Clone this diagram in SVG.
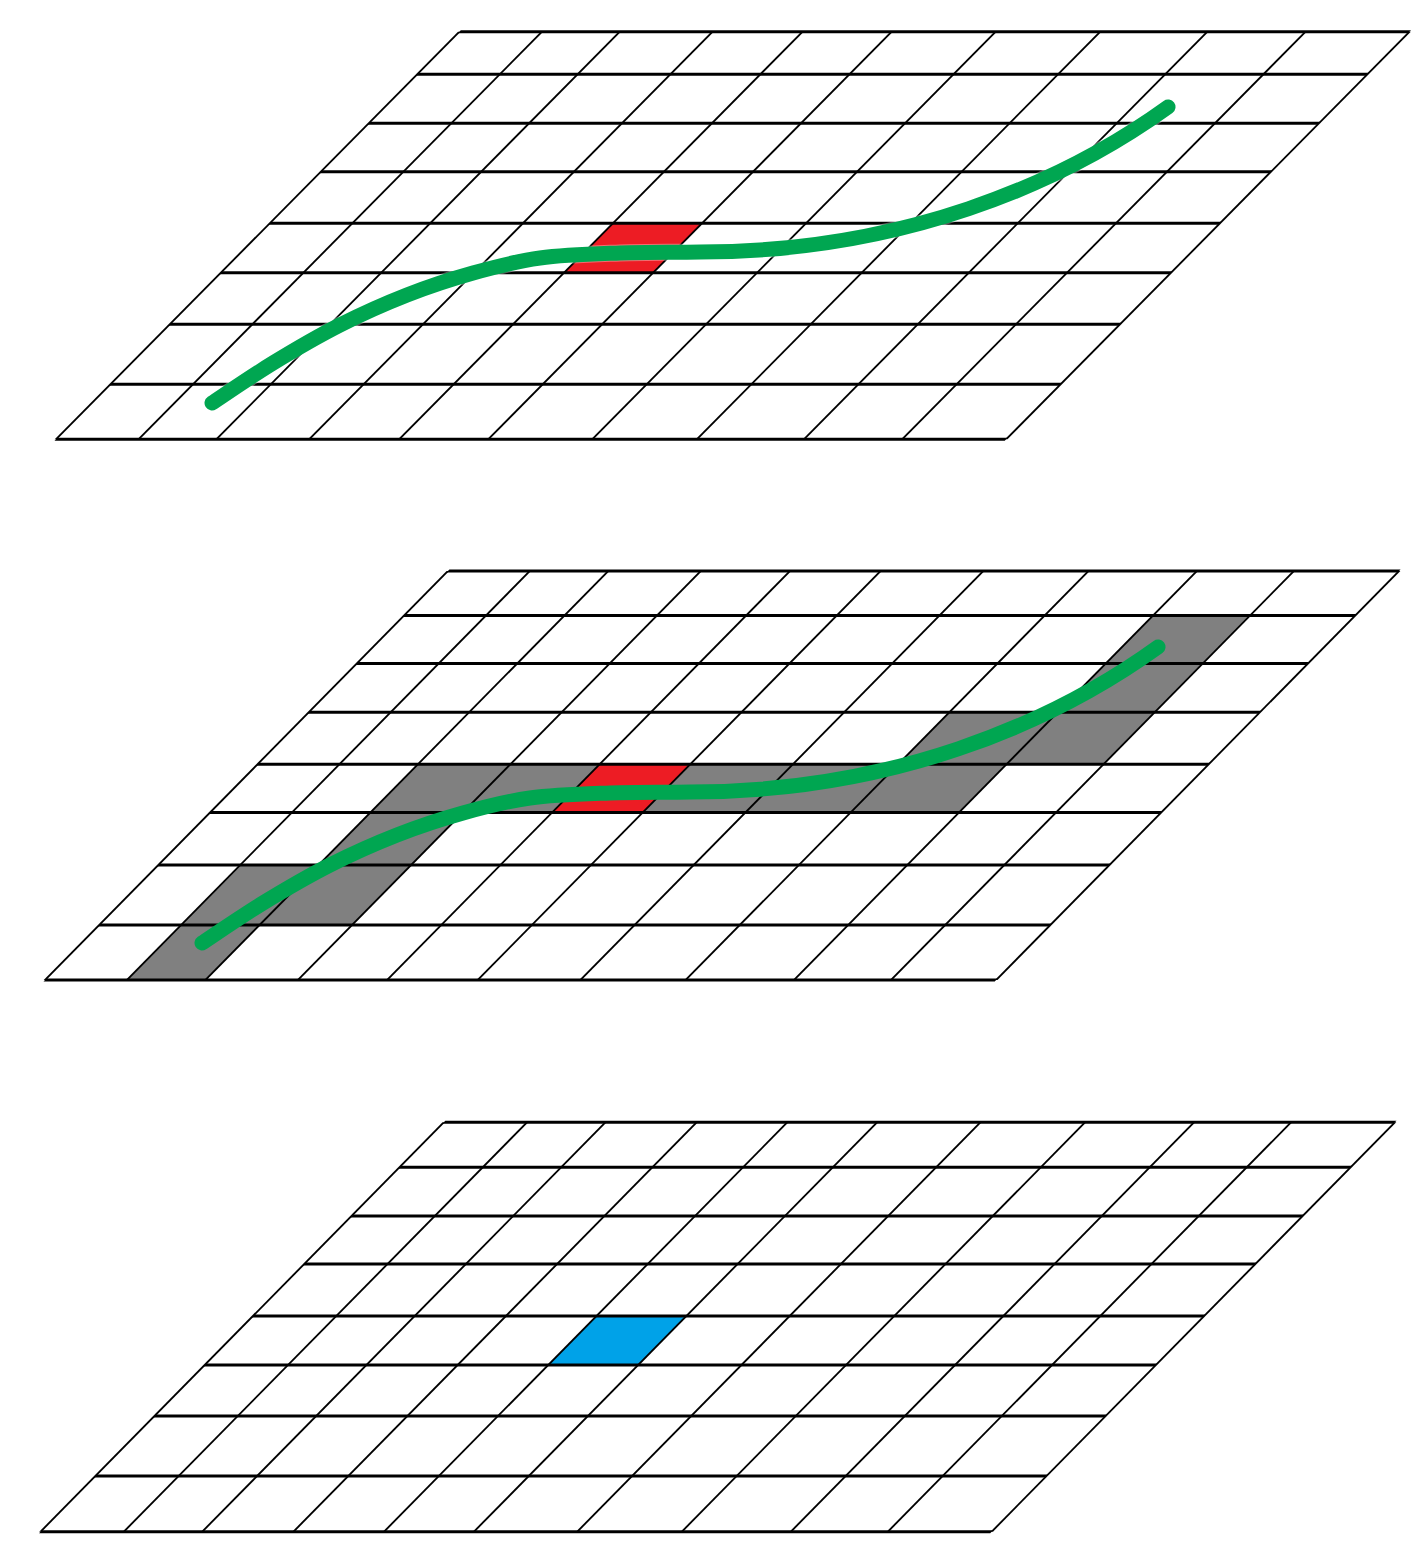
<svg xmlns="http://www.w3.org/2000/svg" xmlns:xlink="http://www.w3.org/1999/xlink" width="1426" height="1561" viewBox="0 0 1426 1561">
  <style>
    .h { stroke: #000; stroke-width: 3; fill: none; }
    .v { stroke: #000; stroke-width: 2.6; fill: none; }
    .gray { fill: #808080; }
    .red { fill: #ed1c24; }
    .blue { fill: #00a2e8; }
    .halo { fill: none; stroke: #ffffff; stroke-opacity: 0.35; stroke-width: 17; stroke-linecap: round; stroke-linejoin: round; }
    .curve { fill: none; stroke: #00a651; stroke-width: 15; stroke-linecap: round; stroke-linejoin: round; }
  </style>
  <defs>
    <path id="track" d="M212,403 C222.2,396.3 251.7,376 273,363 C294.3,350 317.7,336.3 340,325 C362.3,313.7 384.8,303.7 407,295 C429.2,286.3 450.8,279.2 473,273 C495.2,266.8 515.5,261.3 540,258 C564.5,254.7 593.3,254 620,253 C646.7,252 673.3,252.5 700,252 C900,252 1060,185 1168,107"/>
  </defs>
  <rect width="1426" height="1561" fill="#ffffff"/>

  <!-- Grid 1 -->
  <g id="grid1">
    <g transform="matrix(1,0,-0.98945,1,434.67,0)">
      <rect class="red" x="399.2" y="223.3" width="89.1" height="49.4"/>
      <g class="v">
        <line x1="56" y1="31.7" x2="56" y2="439.3"/>
        <line x1="138.6" y1="31.7" x2="138.6" y2="439.3"/>
        <line x1="216.4" y1="31.7" x2="216.4" y2="439.3"/>
        <line x1="309.2" y1="31.7" x2="309.2" y2="439.3"/>
        <line x1="399.2" y1="31.7" x2="399.2" y2="439.3"/>
        <line x1="488.3" y1="31.7" x2="488.3" y2="439.3"/>
        <line x1="592.3" y1="31.7" x2="592.3" y2="439.3"/>
        <line x1="696.9" y1="31.7" x2="696.9" y2="439.3"/>
        <line x1="804" y1="31.7" x2="804" y2="439.3"/>
        <line x1="902.2" y1="31.7" x2="902.2" y2="439.3"/>
        <line x1="1006.2" y1="31.7" x2="1006.2" y2="439.3"/>
      </g>
      <g class="h">
        <line x1="56" y1="31.7" x2="1006.2" y2="31.7"/>
        <line x1="56" y1="74.3" x2="1006.2" y2="74.3"/>
        <line x1="56" y1="123.3" x2="1006.2" y2="123.3"/>
        <line x1="56" y1="171.7" x2="1006.2" y2="171.7"/>
        <line x1="56" y1="223.3" x2="1006.2" y2="223.3"/>
        <line x1="56" y1="272.7" x2="1006.2" y2="272.7"/>
        <line x1="56" y1="324.3" x2="1006.2" y2="324.3"/>
        <line x1="56" y1="384.3" x2="1006.2" y2="384.3"/>
        <line x1="56" y1="439.3" x2="1006.2" y2="439.3"/>
      </g>
    </g>
    <use xlink:href="#track" href="#track" class="halo"/>
    <use xlink:href="#track" href="#track" class="curve"/>
  </g>

  <!-- Grid 2 -->
  <g id="grid2">
    <g transform="matrix(1,0,-0.98509,1,965.39,0)">
      <rect class="gray" x="794" y="615.5" width="97" height="96.8"/>
      <rect class="gray" x="685.6" y="712.3" width="205.4" height="52"/>
      <rect class="gray" x="205.4" y="764.3" width="588.6" height="48.2"/>
      <rect class="gray" x="205.4" y="812.5" width="92.5" height="52.5"/>
      <rect class="gray" x="126.9" y="865" width="171" height="60"/>
      <rect class="gray" x="126.9" y="925" width="78.5" height="55"/>
      <rect class="red" x="387.1" y="764.3" width="90.6" height="48.2"/>
      <g class="v">
        <line x1="45" y1="571" x2="45" y2="980"/>
        <line x1="126.9" y1="571" x2="126.9" y2="980"/>
        <line x1="205.4" y1="571" x2="205.4" y2="980"/>
        <line x1="297.9" y1="571" x2="297.9" y2="980"/>
        <line x1="387.1" y1="571" x2="387.1" y2="980"/>
        <line x1="477.7" y1="571" x2="477.7" y2="980"/>
        <line x1="580.4" y1="571" x2="580.4" y2="980"/>
        <line x1="685.6" y1="571" x2="685.6" y2="980"/>
        <line x1="794" y1="571" x2="794" y2="980"/>
        <line x1="891" y1="571" x2="891" y2="980"/>
        <line x1="996.2" y1="571" x2="996.2" y2="980"/>
      </g>
      <g class="h">
        <line x1="45" y1="571" x2="996.2" y2="571"/>
        <line x1="45" y1="615.5" x2="996.2" y2="615.5"/>
        <line x1="45" y1="663.5" x2="996.2" y2="663.5"/>
        <line x1="45" y1="712.3" x2="996.2" y2="712.3"/>
        <line x1="45" y1="764.3" x2="996.2" y2="764.3"/>
        <line x1="45" y1="812.5" x2="996.2" y2="812.5"/>
        <line x1="45" y1="865" x2="996.2" y2="865"/>
        <line x1="45" y1="925" x2="996.2" y2="925"/>
        <line x1="45" y1="980" x2="996.2" y2="980"/>
      </g>
    </g>
    <g transform="translate(-10,540)">
      <use xlink:href="#track" href="#track" class="curve"/>
    </g>
  </g>

  <!-- Grid 3 -->
  <g id="grid3">
    <g transform="matrix(1,0,-0.9851,1,1508.88,0)">
      <rect class="blue" x="384" y="1316" width="89.9" height="49"/>
      <g class="v">
        <line x1="40.5" y1="1122.3" x2="40.5" y2="1531.7"/>
        <line x1="123.8" y1="1122.3" x2="123.8" y2="1531.7"/>
        <line x1="202.2" y1="1122.3" x2="202.2" y2="1531.7"/>
        <line x1="293.4" y1="1122.3" x2="293.4" y2="1531.7"/>
        <line x1="384" y1="1122.3" x2="384" y2="1531.7"/>
        <line x1="473.9" y1="1122.3" x2="473.9" y2="1531.7"/>
        <line x1="577.2" y1="1122.3" x2="577.2" y2="1531.7"/>
        <line x1="681.8" y1="1122.3" x2="681.8" y2="1531.7"/>
        <line x1="790.8" y1="1122.3" x2="790.8" y2="1531.7"/>
        <line x1="887.8" y1="1122.3" x2="887.8" y2="1531.7"/>
        <line x1="991.7" y1="1122.3" x2="991.7" y2="1531.7"/>
      </g>
      <g class="h">
        <line x1="40.5" y1="1122.3" x2="991.7" y2="1122.3"/>
        <line x1="40.5" y1="1167.3" x2="991.7" y2="1167.3"/>
        <line x1="40.5" y1="1216" x2="991.7" y2="1216"/>
        <line x1="40.5" y1="1264" x2="991.7" y2="1264"/>
        <line x1="40.5" y1="1316" x2="991.7" y2="1316"/>
        <line x1="40.5" y1="1365" x2="991.7" y2="1365"/>
        <line x1="40.5" y1="1416" x2="991.7" y2="1416"/>
        <line x1="40.5" y1="1476" x2="991.7" y2="1476"/>
        <line x1="40.5" y1="1531.7" x2="991.7" y2="1531.7"/>
      </g>
    </g>
  </g>
</svg>
